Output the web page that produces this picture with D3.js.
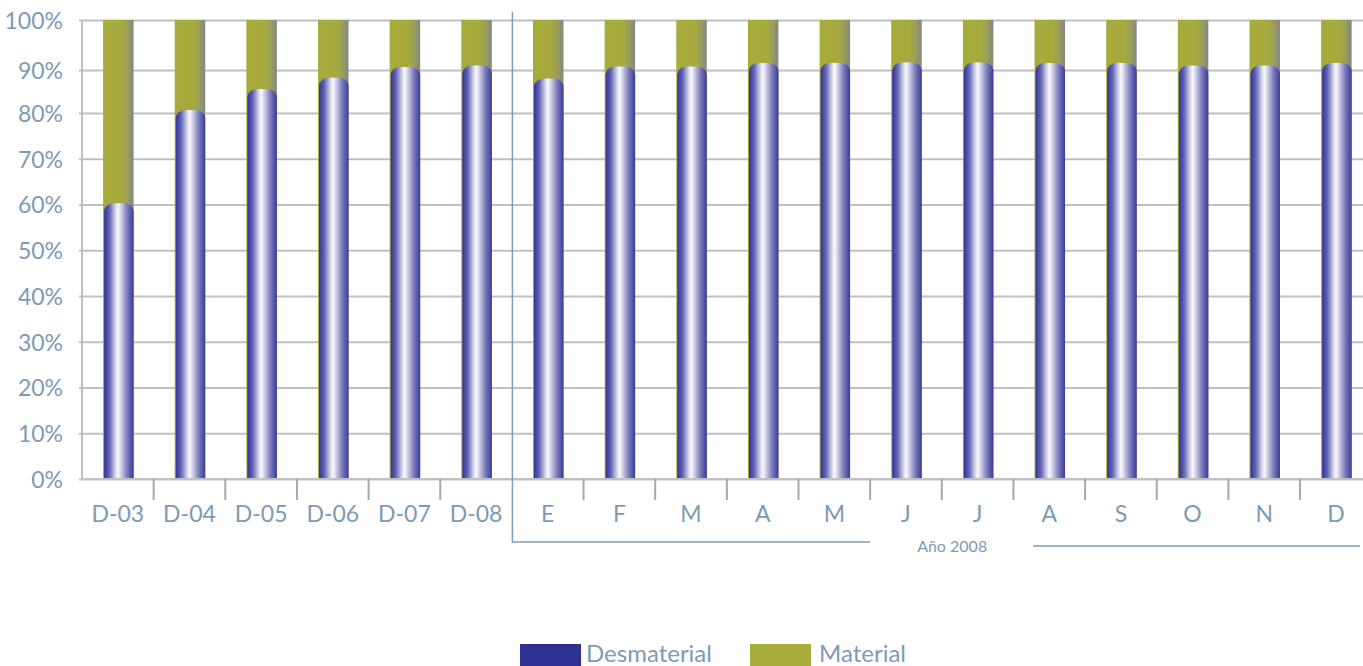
<!DOCTYPE html>
<html>
<head>
<meta charset="utf-8">
<script src="https://cdn.jsdelivr.net/npm/d3@7"></script>
<style>
  html, body { margin: 0; padding: 0; background: #fff; overflow: hidden; }
  svg { display: block; }
  text { font-family: Lato, "Open Sans", sans-serif; }
</style>
</head>
<body>
<svg id="chart" width="1363" height="666"></svg>
<script>
// ---- data ----
const categories = ["D-03","D-04","D-05","D-06","D-07","D-08","E","F","M","A","M","J","J","A","S","O","N","D"];
const desmaterial = [60.3, 80.7, 85.6, 88.2, 90.6, 90.9, 88.0, 90.7, 90.7, 91.4, 91.4, 91.5, 91.5, 91.4, 91.4, 90.9, 90.9, 91.4];
const material = desmaterial.map(v => +(100 - v).toFixed(1));
const yTicks = [0,10,20,30,40,50,60,70,80,90,100];
const seriesNames = ["Desmaterial","Material"];
const yearLabel = "Año 2008";

// ---- styles ----
const labelColor = "#7d9bb4";
const gridColor = "#c0c0c0";
const blueSolid = "#2e3192";
const oliveSolid = "#a7ac3a";

const svg = d3.select("#chart");
const W = 1363;

// scales
const x = d3.scaleBand().domain(d3.range(categories.length)).range([82, 82 + 18 * 71.65]).padding(0);
const y = d3.scaleLinear().domain([0, 80, 90, 100]).range([479, 113, 70, 20]);
const bw = x.bandwidth();
const barW = 29.5;
const barX = i => x(i) + (bw - barW) / 2 + 1;

// gradients
const defs = svg.append("defs");
const gB = defs.append("linearGradient").attr("id", "gBlue").attr("x1", "0").attr("x2", "1").attr("y1", "0").attr("y2", "0");
[[0, "#30339a"], [0.18, "#6265b2"], [0.38, "#d2d2ea"], [0.47, "#fafafd"], [0.56, "#d6d6ec"], [0.78, "#7c7cbc"], [1, "#3a3b98"]]
  .forEach(([o, c]) => gB.append("stop").attr("offset", o).attr("stop-color", c));
const gO = defs.append("linearGradient").attr("id", "gOlive").attr("x1", "0").attr("x2", "1").attr("y1", "0").attr("y2", "0");
[[0, "#a7ab3a"], [0.6, "#a6aa3d"], [0.8, "#9c9e5a"], [1, "#858585"]]
  .forEach(([o, c]) => gO.append("stop").attr("offset", o).attr("stop-color", c));

// gridlines + y axis
const yAxis = d3.axisLeft(y).tickValues(yTicks).tickFormat(d => d + "%").tickSizeInner(-(W - 82)).tickSizeOuter(0).tickPadding(19);
const gy = svg.append("g").attr("transform", "translate(82,0)").call(yAxis);
gy.select(".domain").remove();
gy.selectAll(".tick line").attr("x1", -3).attr("stroke", gridColor).attr("stroke-width", 2);
gy.selectAll(".tick text").attr("fill", labelColor).attr("font-size", 23).attr("dy", "0.36em");
svg.append("line").attr("x1", 82).attr("x2", 82).attr("y1", y(100)).attr("y2", y(0))
  .attr("stroke", gridColor).attr("stroke-width", 2);

// bars
const bars = svg.append("g");
categories.forEach((c, i) => {
  const x0 = barX(i);
  // material (full-height behind, shows through as a thin edge on the left)
  bars.append("rect")
    .attr("x", x0 - 1).attr("width", barW + 1)
    .attr("y", y(100)).attr("height", y(0) - y(100))
    .attr("fill", "url(#gOlive)");
  // desmaterial cylinder with rounded top
  const yt = y(desmaterial[i]), yb = y(0), rx = 10, ry = 8;
  const p = `M${x0},${yb} V${yt + ry} A${rx},${ry} 0 0 1 ${x0 + rx},${yt} H${x0 + barW - rx} A${rx},${ry} 0 0 1 ${x0 + barW},${yt + ry} V${yb} Z`;
  bars.append("path").attr("d", p).attr("fill", "url(#gBlue)");
});

// x axis
const xAxis = d3.axisBottom(x).tickFormat(i => categories[i]).tickSize(0).tickPadding(27);
const gx = svg.append("g").attr("transform", `translate(0,${y(0)})`).call(xAxis);
gx.select(".domain").remove();
gx.selectAll(".tick text").attr("fill", labelColor).attr("font-size", 23);
svg.append("line").attr("x1", 82).attr("x2", W).attr("y1", y(0)).attr("y2", y(0))
  .attr("stroke", gridColor).attr("stroke-width", 2);
// category boundary ticks
const sepIndex = categories.indexOf("E");
d3.range(1, categories.length).filter(i => i !== sepIndex).forEach(i => {
  svg.append("line").attr("x1", x(i)).attr("x2", x(i)).attr("y1", y(0)).attr("y2", y(0) + 21)
    .attr("stroke", "#a8a8a8").attr("stroke-width", 2);
});

// year bracket
const xs = x(sepIndex) + 0.5;
const leftEnd = x(11);
const textC = leftEnd + 82;
const rightStart = leftEnd + 163;
svg.append("path").attr("d", `M${xs},12 V542 H${leftEnd}`).attr("fill", "none")
  .attr("stroke", "#7f9db5").attr("stroke-width", 1.5);
svg.append("line").attr("x1", rightStart).attr("x2", 1360).attr("y1", 546).attr("y2", 546)
  .attr("stroke", "#7f9db5").attr("stroke-width", 1.5);
svg.append("text").attr("x", textC).attr("y", 552).attr("text-anchor", "middle")
  .attr("fill", labelColor).attr("font-size", 16).text(yearLabel);

// legend
const legend = svg.append("g");
const legendItems = [
  { name: seriesNames[0], color: blueSolid, x: 520, tx: 586 },
  { name: seriesNames[1], color: oliveSolid, x: 750, tx: 819 }
];
legendItems.forEach(d => {
  legend.append("rect").attr("x", d.x).attr("y", 644).attr("width", 61).attr("height", 24).attr("fill", d.color);
  legend.append("text").attr("x", d.tx).attr("y", 662).attr("fill", labelColor).attr("font-size", 24).text(d.name);
});
</script>
</body>
</html>
